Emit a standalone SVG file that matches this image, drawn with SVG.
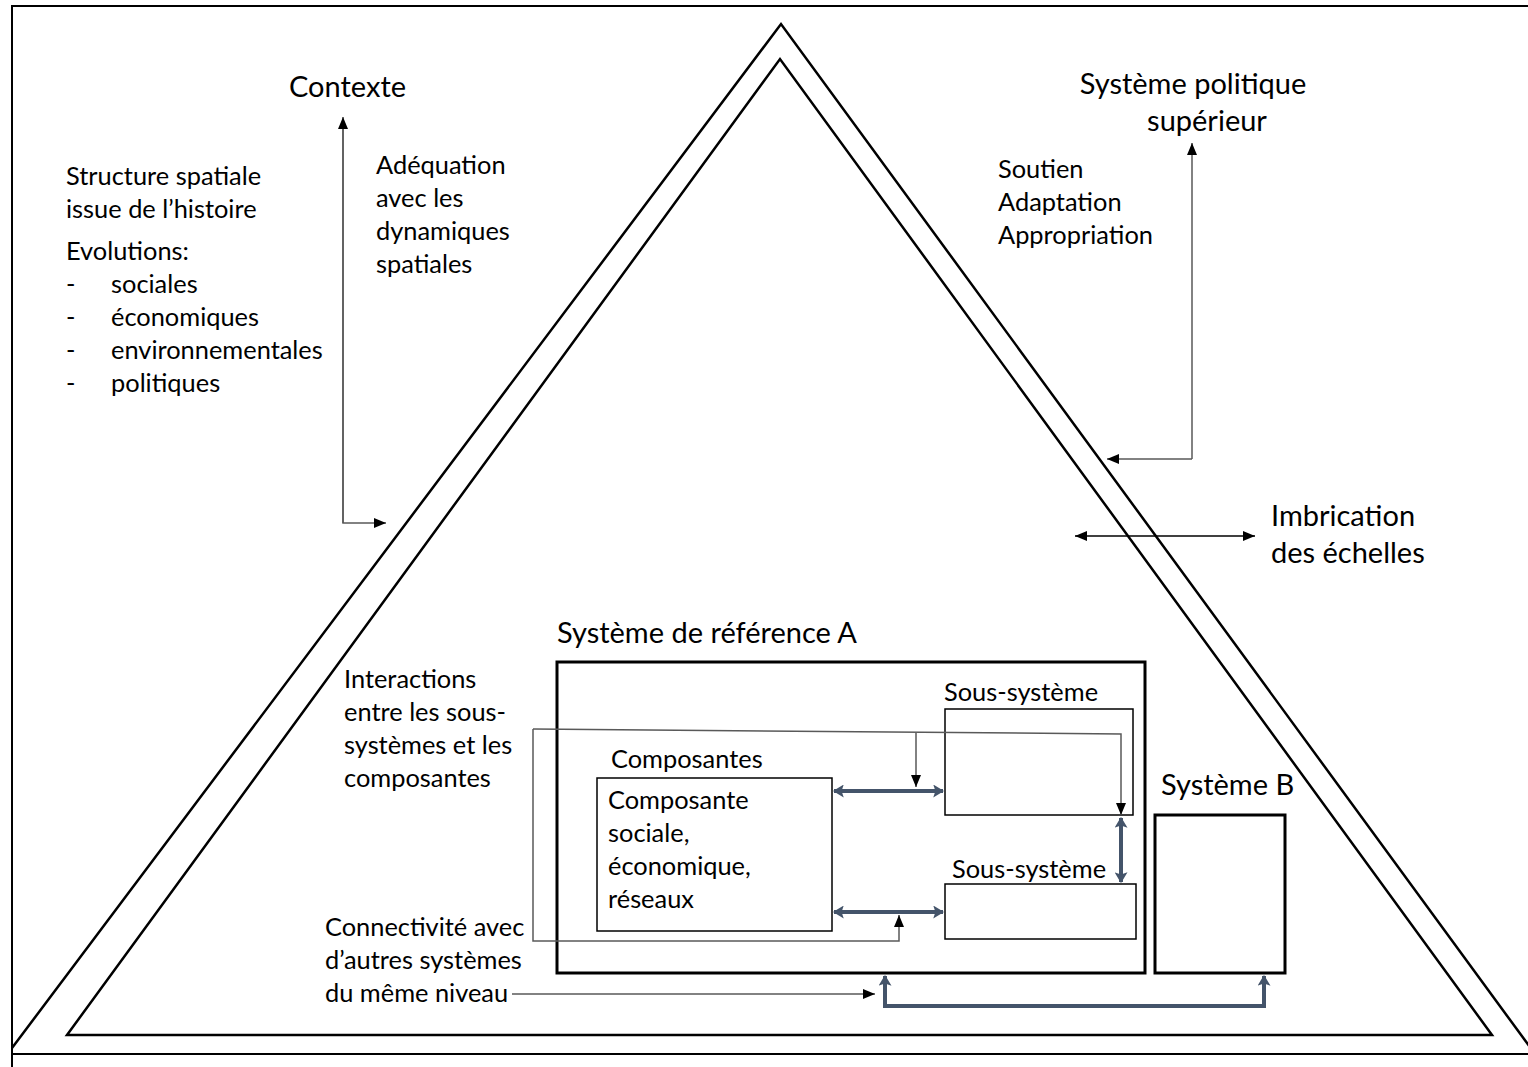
<svg xmlns="http://www.w3.org/2000/svg" width="1528" height="1067" viewBox="0 0 1528 1067">
<style>
text{font-family:Lato,"Open Sans","Liberation Sans",sans-serif;fill:#000}
.s{font-size:25.4px}
.b{font-size:29px}
.frame{fill:none;stroke:#000;stroke-width:2}
.tri{fill:none;stroke:#000;stroke-width:2.5;stroke-linejoin:miter}
.thin{fill:none;stroke:#595959;stroke-width:1.5}
.blk{fill:none;stroke:#000;stroke-width:1.5}
.thick{fill:none;stroke:#44546A;stroke-width:4}
.box{fill:#fff;stroke:#000;stroke-width:1.5}
.bigbox{fill:#fff;stroke:#000;stroke-width:3}
</style>
<defs>
<marker id="ah" viewBox="0 0 12 10" refX="12" refY="5" markerWidth="12" markerHeight="10" markerUnits="userSpaceOnUse" orient="auto-start-reverse">
<path d="M0,0 L12,5 L0,10 z" fill="#000"/>
</marker>
<marker id="ahb" viewBox="0 0 10 12" refX="9" refY="6" markerWidth="11" markerHeight="13" markerUnits="userSpaceOnUse" orient="auto-start-reverse">
<path d="M0,0 L10,6 L0,12 L2,6 z" fill="#44546A"/>
</marker>
</defs>
<rect width="1528" height="1067" fill="#fff"/>
<g id="frame">
<path class="frame" d="M12,1067 V6 H1528"/>
<path class="frame" d="M12,1054 H1528"/>
</g>
<g id="triangles">
<path class="tri" d="M12,1048 L781,24 L1535,1054"/>
<path class="tri" d="M67,1035 L780,59 L1492,1035 Z"/>
</g>
<g id="contexte">
<text class="b" x="289" y="97">Contexte</text>
</g>
<g id="structure">
<text class="s" x="66" y="185">Structure spatiale</text>
<text class="s" x="66" y="218">issue de l’histoire</text>
<text class="s" x="66" y="260">Evolutions:</text>
<text class="s" x="66" y="293">-</text><text class="s" x="111" y="293">sociales</text>
<text class="s" x="66" y="326">-</text><text class="s" x="111" y="326">économiques</text>
<text class="s" x="66" y="359">-</text><text class="s" x="111" y="359">environnementales</text>
<text class="s" x="66" y="392">-</text><text class="s" x="111" y="392">politiques</text>
</g>
<g id="adequation">
<text class="s" x="376" y="174">Adéquation</text>
<text class="s" x="376" y="207">avec les</text>
<text class="s" x="376" y="240">dynamiques</text>
<text class="s" x="376" y="273">spatiales</text>
</g>
<g id="systeme-politique">
<text class="b" x="1193" y="94" text-anchor="middle">Système politique</text>
<text class="b" x="1207" y="131" text-anchor="middle">supérieur</text>
</g>
<g id="soutien">
<text class="s" x="998" y="178">Soutien</text>
<text class="s" x="998" y="211">Adaptation</text>
<text class="s" x="998" y="244">Appropriation</text>
</g>
<g id="imbrication">
<text class="b" x="1271" y="526">Imbrication</text>
<text class="b" x="1271" y="563">des échelles</text>
</g>
<g id="interactions">
<text class="s" x="344" y="688">Interactions</text>
<text class="s" x="344" y="721">entre les sous-</text>
<text class="s" x="344" y="754">systèmes et les</text>
<text class="s" x="344" y="787">composantes</text>
</g>
<g id="connectivite">
<text class="s" x="325" y="936">Connectivité avec</text>
<text class="s" x="325" y="969">d’autres systèmes</text>
<text class="s" x="325" y="1002">du même niveau</text>
</g>
<g id="systeme-A">
<text class="b" x="557" y="643">Système de référence A</text>
<rect class="bigbox" x="557" y="662" width="588" height="311"/>
</g>
<g id="composantes">
<text class="s" x="611" y="768">Composantes</text>
<rect class="box" x="597" y="778" width="235" height="153"/>
<text class="s" x="608" y="809">Composante</text>
<text class="s" x="608" y="842">sociale,</text>
<text class="s" x="608" y="875">économique,</text>
<text class="s" x="608" y="908">réseaux</text>
</g>
<g id="sous-systeme-1">
<text class="s" x="944" y="701">Sous-système</text>
<rect class="box" x="945" y="709" width="188" height="106"/>
</g>
<g id="sous-systeme-2">
<text class="s" x="952" y="878">Sous-système</text>
<rect class="box" x="945" y="884" width="191" height="55"/>
</g>
<g id="systeme-B">
<text class="b" x="1161" y="795">Système B</text>
<rect class="bigbox" x="1155" y="815" width="130" height="158"/>
</g>
<g id="connectors">
<path class="thin" d="M343,127 V523 H386" marker-end="url(#ah)"/>
<path class="thin" d="M343,523 V117" marker-end="url(#ah)"/>
<path class="thin" d="M1192,459 H1107" marker-end="url(#ah)"/>
<path class="thin" d="M1192,459 V143" marker-end="url(#ah)"/>
<path class="blk" d="M1075,536 H1255" marker-start="url(#ah)" marker-end="url(#ah)"/>
<path class="thin" d="M533,729 L1121,734 V815" marker-end="url(#ah)"/>
<path class="thin" d="M916,733 V787" marker-end="url(#ah)"/>
<path class="thin" d="M533,729 V941 H899 V915" marker-end="url(#ah)"/>
<path class="thin" d="M512,994 H875" marker-end="url(#ah)"/>
<path class="thick" d="M834,791 H943" marker-start="url(#ahb)" marker-end="url(#ahb)"/>
<path class="thick" d="M834,912 H943" marker-start="url(#ahb)" marker-end="url(#ahb)"/>
<path class="thick" d="M1121,818 V882" marker-start="url(#ahb)" marker-end="url(#ahb)"/>
<path class="thick" d="M885,976 V1006 H1264 V976" marker-start="url(#ahb)" marker-end="url(#ahb)"/>
</g>
</svg>
